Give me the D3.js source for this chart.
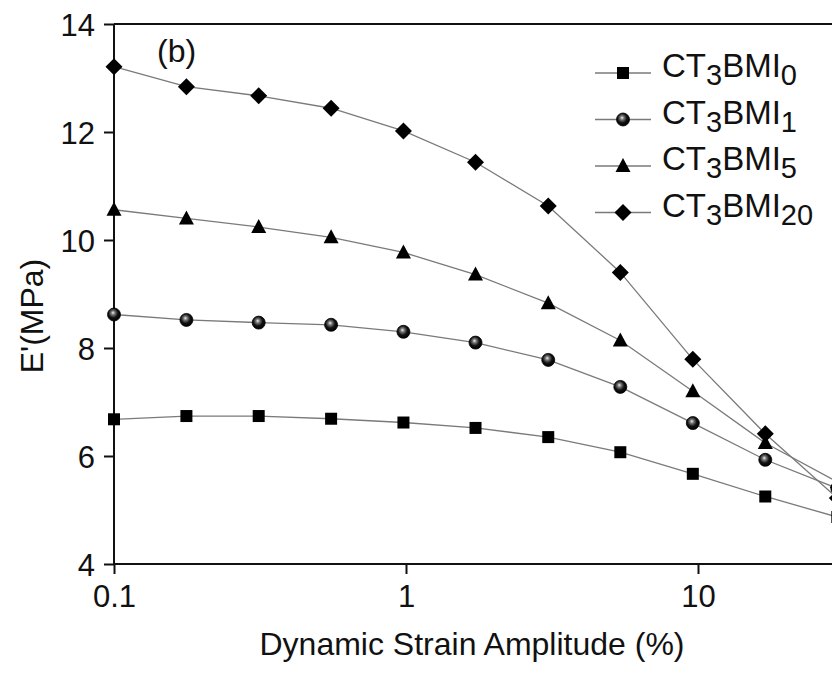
<!DOCTYPE html>
<html>
<head>
<meta charset="utf-8">
<script src="https://cdn.jsdelivr.net/npm/d3@7"></script>
<style>
  html, body { margin: 0; padding: 0; background: #fff; }
  svg { display: block; font-family: "Liberation Sans", Arial, sans-serif; }
</style>
</head>
<body>
<svg id="chart" width="832" height="675"></svg>
<script>
// Strain amplitude (%) at which E' was measured
const strain = [0.1, 0.177, 0.313, 0.554, 0.98, 1.73, 3.07, 5.42, 9.6, 17.0, 30.0];

// Storage modulus E' (MPa) per BMI content
const bmi0  = [6.68, 6.74, 6.74, 6.69, 6.62, 6.52, 6.35, 6.07, 5.67, 5.25, 4.87];
const bmi1  = [8.62, 8.52, 8.47, 8.43, 8.30, 8.10, 7.78, 7.28, 6.61, 5.93, 5.40];
const bmi5  = [10.56, 10.40, 10.24, 10.05, 9.77, 9.36, 8.83, 8.14, 7.20, 6.24, 5.52];
const bmi20 = [13.21, 12.84, 12.67, 12.44, 12.02, 11.44, 10.63, 9.40, 7.79, 6.41, 5.22];

const seriesNames = ["0", "1", "5", "20"];
const seriesMarks = ["square", "sphere", "triangle", "diamond"];
const seriesData  = [bmi0, bmi1, bmi5, bmi20];

const xTicks = [0.1, 1, 10];
const yTicks = [4, 6, 8, 10, 12, 14];

const svg = d3.select("#chart");
const W = 832;

const x = d3.scaleLog().domain([0.1, 10]).range([114, 698]);
const y = d3.scaleLinear().domain([4, 14]).range([564, 24]);

const ink = "#111";
const FONT = "Liberation Sans, Arial, sans-serif";

// sphere shading for the circle markers
const defs = svg.append("defs");
const grad = defs.append("radialGradient").attr("id", "sphere")
  .attr("cx", "45%").attr("cy", "42%").attr("r", "60%")
  .attr("fx", "42%").attr("fy", "36%");
grad.append("stop").attr("offset", "0%").attr("stop-color", "#eee");
grad.append("stop").attr("offset", "25%").attr("stop-color", "#777");
grad.append("stop").attr("offset", "60%").attr("stop-color", "#111");
grad.append("stop").attr("offset", "100%").attr("stop-color", "#000");

function drawMarker(g, kind) {
  if (kind === "square") {
    g.append("rect").attr("x", -6).attr("y", -6).attr("width", 12).attr("height", 12).attr("fill", "#000");
  } else if (kind === "sphere") {
    g.append("circle").attr("r", 6.5).attr("fill", "url(#sphere)").attr("stroke", "#000").attr("stroke-width", 0.8);
  } else if (kind === "triangle") {
    g.append("path").attr("d", "M0,-8L7.5,6L-7.5,6Z").attr("fill", "#000");
  } else {
    g.append("path").attr("d", "M0,-8.5L8.5,0L0,8.5L-8.5,0Z").attr("fill", "#000");
  }
}

// axes
const yAxis = d3.axisLeft(y).tickValues(yTicks).tickSize(10).tickFormat(d3.format("d"));
const gy = svg.append("g").attr("transform", `translate(${x(0.1)},0)`).call(yAxis)
  .attr("font-size", null).attr("font-family", null);
gy.select(".domain").remove();
gy.selectAll(".tick line").attr("stroke", ink).attr("stroke-width", 2);
gy.selectAll(".tick text").attr("fill", ink)
  .style("font-size", "31px").style("font-family", FONT)
  .attr("dy", "0.36em").attr("x", -19);

const xAxis = d3.axisBottom(x).tickValues(xTicks).tickSize(10).tickFormat(d => d === 0.1 ? "0.1" : String(d));
const gx = svg.append("g").attr("transform", `translate(0,${y(4)})`).call(xAxis)
  .attr("font-size", null).attr("font-family", null);
gx.select(".domain").remove();
gx.selectAll(".tick line").attr("stroke", ink).attr("stroke-width", 2);
gx.selectAll(".tick text").attr("fill", ink)
  .style("font-size", "31px").style("font-family", FONT)
  .attr("dy", 0).attr("y", 43);

// frame: left, bottom, top
svg.append("line").attr("x1", x(0.1)).attr("x2", x(0.1)).attr("y1", y(14)).attr("y2", y(4))
  .attr("stroke", ink).attr("stroke-width", 2);
svg.append("line").attr("x1", x(0.1)).attr("x2", W).attr("y1", y(4)).attr("y2", y(4))
  .attr("stroke", ink).attr("stroke-width", 2);
svg.append("line").attr("x1", x(0.1)).attr("x2", W).attr("y1", y(14)).attr("y2", y(14))
  .attr("stroke", ink).attr("stroke-width", 2);

// series lines and markers
const line = d3.line().x(d => x(d[0])).y(d => y(d[1]));
seriesData.forEach((vals) => {
  const pts = strain.map((s, j) => [s, vals[j]]);
  svg.append("path").attr("d", line(pts)).attr("fill", "none")
    .attr("stroke", "#7a7a7a").attr("stroke-width", 1.3);
});
seriesData.forEach((vals, i) => {
  strain.forEach((s, j) => {
    const g = svg.append("g").attr("transform", `translate(${x(s)},${y(vals[j])})`);
    drawMarker(g, seriesMarks[i]);
  });
});

// panel label
svg.append("text").attr("x", 157).attr("y", 62).style("font-size", "32px").attr("fill", ink).text("(b)");

// legend
const legRowY = [73, 119.5, 166, 212.5];
seriesNames.forEach((name, i) => {
  const cy = legRowY[i];
  svg.append("line").attr("x1", 595).attr("x2", 651).attr("y1", cy).attr("y2", cy)
    .attr("stroke", "#7a7a7a").attr("stroke-width", 1.3);
  const g = svg.append("g").attr("transform", `translate(623,${cy})`);
  drawMarker(g, seriesMarks[i]);
  const t = svg.append("text").attr("x", 662).attr("y", cy + 4).style("font-size", "33px").attr("fill", ink);
  t.append("tspan").text("CT");
  t.append("tspan").style("font-size", "29px").attr("dy", 8).text("3");
  t.append("tspan").attr("dy", -8).text("BMI");
  t.append("tspan").style("font-size", "29px").attr("dy", 8).text(name);
});

// axis titles
svg.append("text").attr("x", 472).attr("y", 655).attr("text-anchor", "middle")
  .style("font-size", "32px").attr("fill", ink).text("Dynamic Strain Amplitude (%)");
svg.append("text").attr("transform", "translate(43,316) rotate(-90)").attr("text-anchor", "middle")
  .style("font-size", "32px").attr("fill", ink).text("E'(MPa)");
</script>
</body>
</html>
